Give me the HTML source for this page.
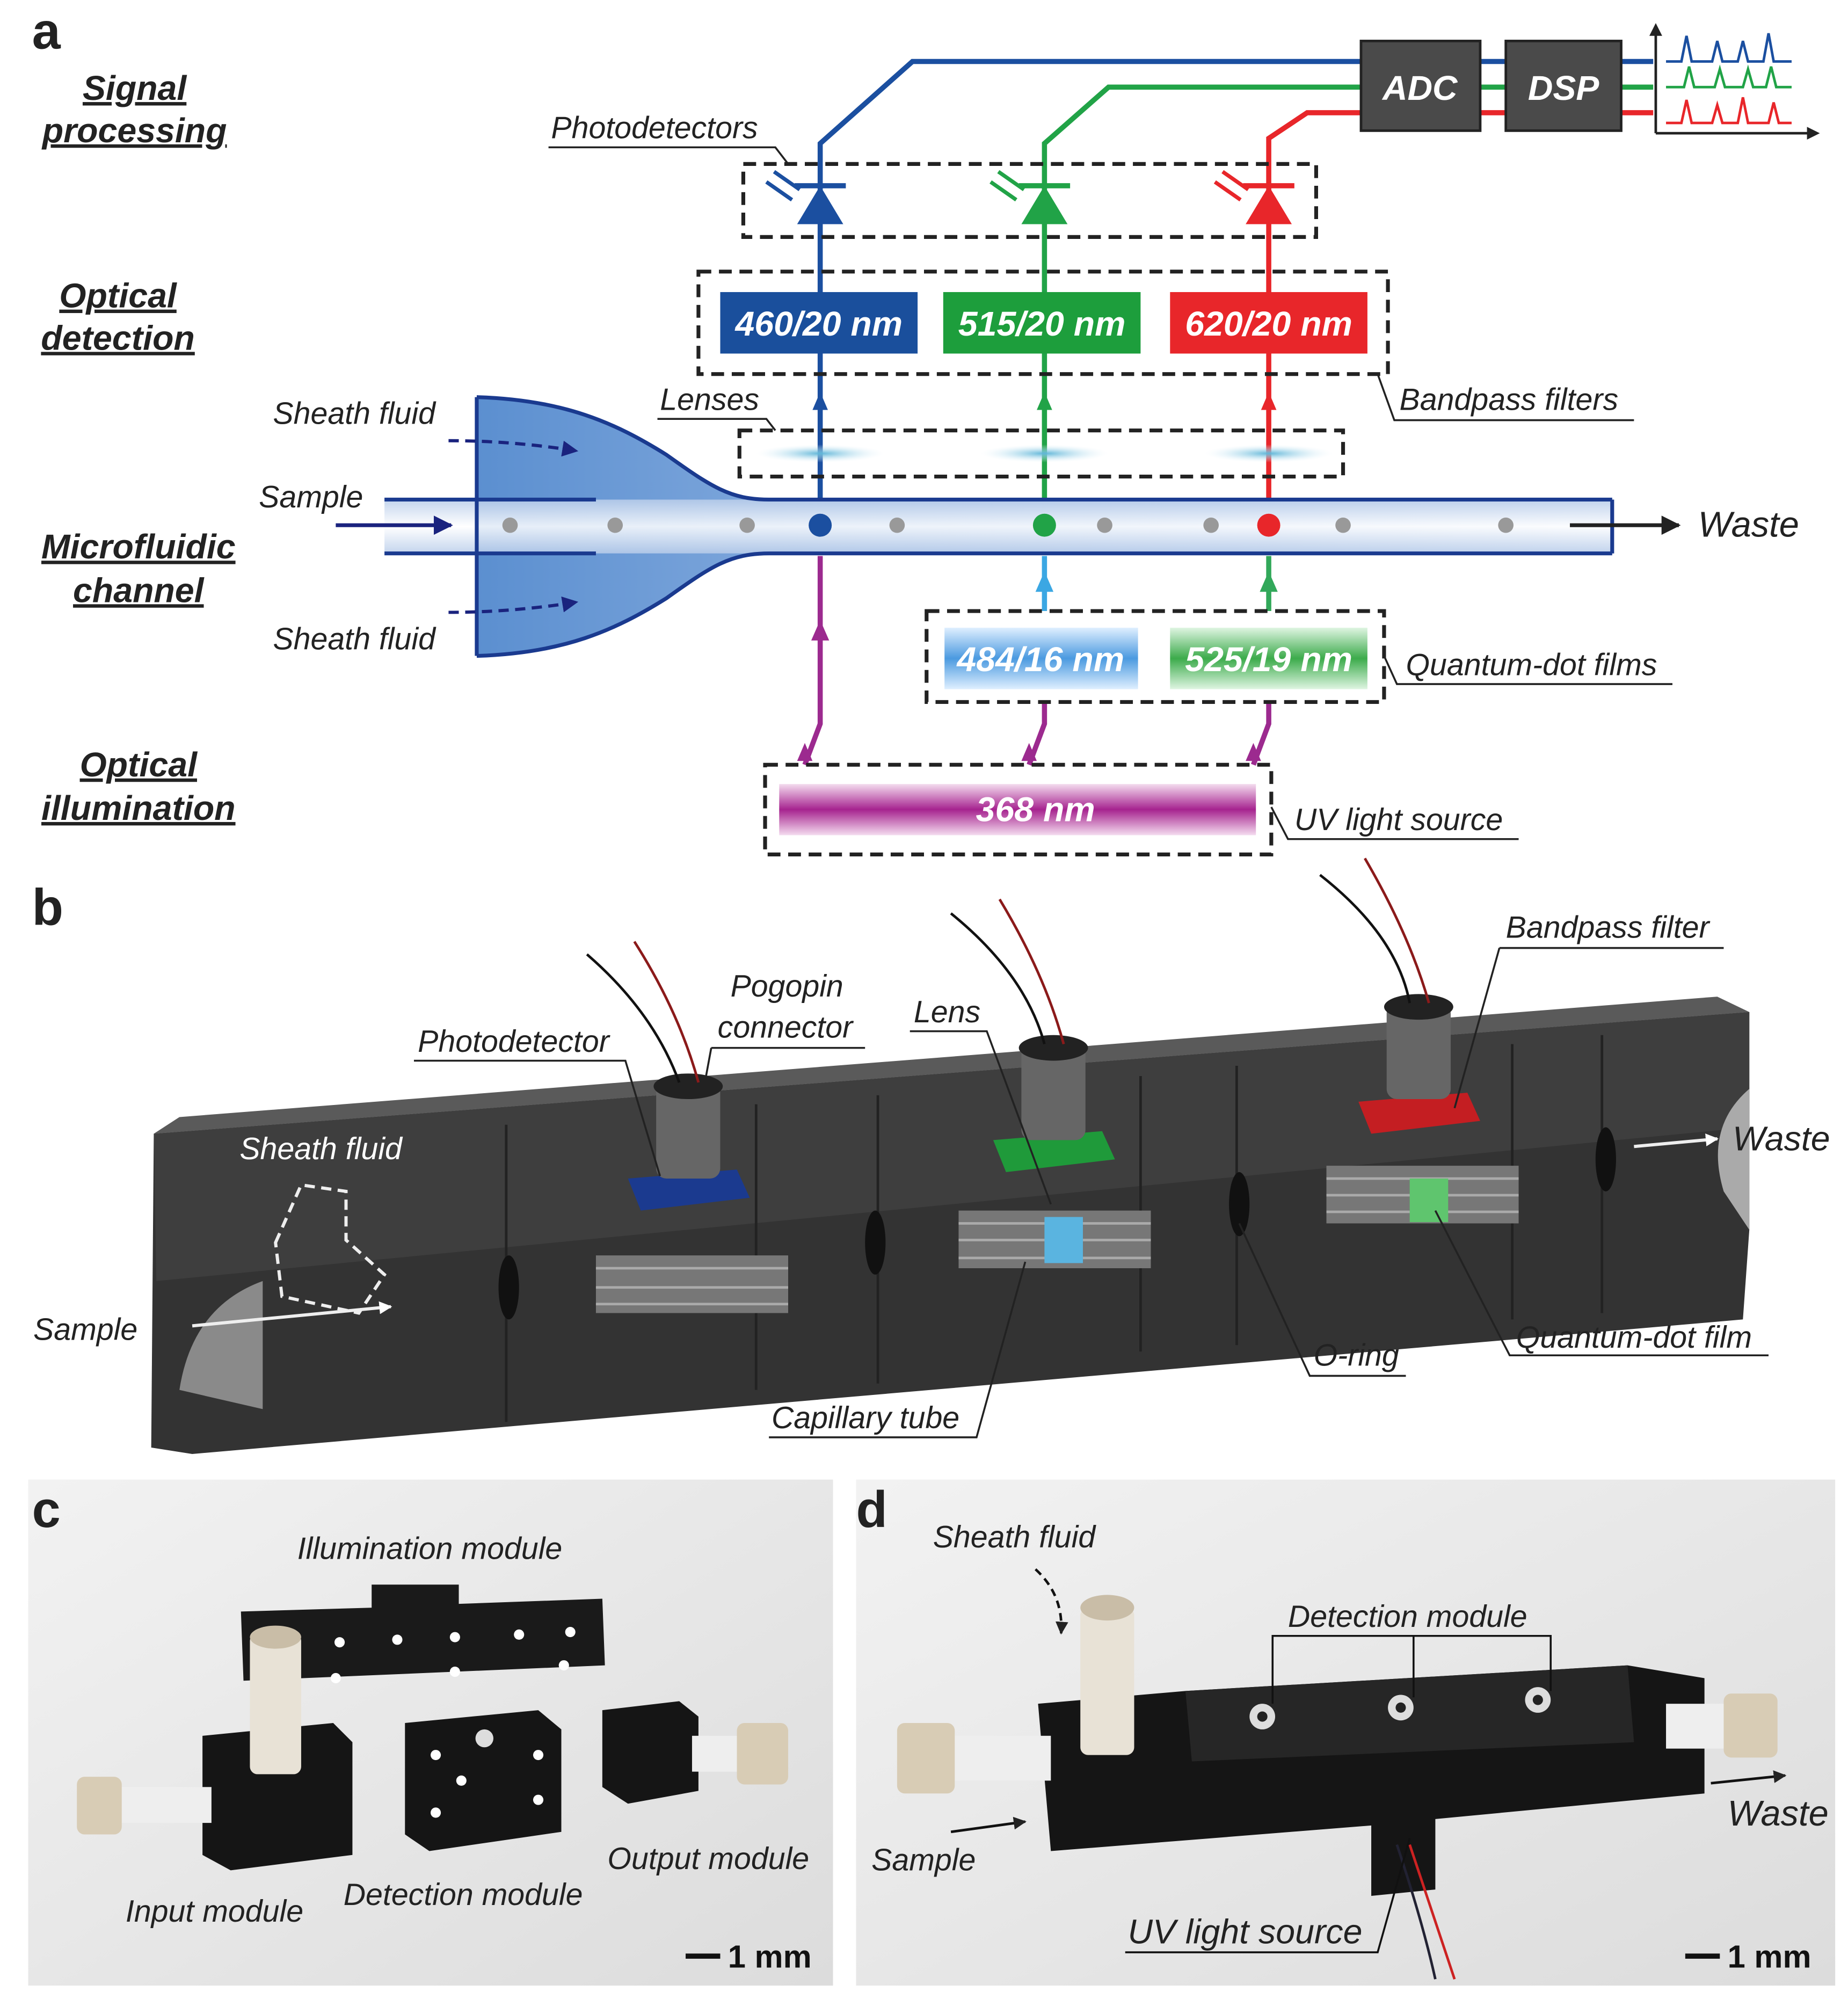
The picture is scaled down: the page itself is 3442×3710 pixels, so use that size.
<!DOCTYPE html>
<html><head><meta charset="utf-8"><style>
html,body{margin:0;padding:0;background:#fff}
svg{display:block}
text{font-family:"Liberation Sans",sans-serif}
.lb{font-style:italic;font-size:24px;fill:#222}
.sec{font-style:italic;font-weight:bold;font-size:27px;fill:#222;text-decoration:underline}
.big{font-weight:bold;font-size:40px;fill:#222}
.ft{font-style:italic;font-weight:bold;font-size:27px;fill:#fff}
</style></head><body>
<svg width="3442" height="3710" viewBox="0 0 1442 1555" preserveAspectRatio="none" xmlns="http://www.w3.org/2000/svg">
<defs>
<linearGradient id="fun" x1="0" x2="1" y1="0" y2="0"><stop offset="0" stop-color="#5b8fd0"/><stop offset="0.6" stop-color="#a9c4ea"/><stop offset="1" stop-color="#eef3fb"/></linearGradient>
<linearGradient id="tube" x1="0" x2="0" y1="0" y2="1"><stop offset="0" stop-color="#b9cdea"/><stop offset="0.5" stop-color="#fff"/><stop offset="1" stop-color="#b9cdea"/></linearGradient>
<linearGradient id="uv" x1="0" x2="0" y1="0" y2="1"><stop offset="0" stop-color="#f4dcef"/><stop offset="0.5" stop-color="#a6238f"/><stop offset="1" stop-color="#f4dcef"/></linearGradient>
<linearGradient id="qb" x1="0" x2="0" y1="0" y2="1"><stop offset="0" stop-color="#dfefff"/><stop offset="0.5" stop-color="#4b9ae0"/><stop offset="1" stop-color="#dfefff"/></linearGradient>
<linearGradient id="qg" x1="0" x2="0" y1="0" y2="1"><stop offset="0" stop-color="#dff5e2"/><stop offset="0.5" stop-color="#3cab4b"/><stop offset="1" stop-color="#dff5e2"/></linearGradient>
<radialGradient id="lens"><stop offset="0" stop-color="#5fb6d8"/><stop offset="1" stop-color="#e6f4fb" stop-opacity="0"/></radialGradient>
<linearGradient id="ph" x1="0" x2="1" y1="0" y2="1"><stop offset="0" stop-color="#f2f2f2"/><stop offset="1" stop-color="#dcdcdc"/></linearGradient>
<marker id="ab" viewBox="0 0 10 10" refX="9" refY="5" markerWidth="5" markerHeight="5" orient="auto"><path d="M0,0L10,5L0,10z" fill="#1a237e"/></marker>
<marker id="ak" viewBox="0 0 10 10" refX="9" refY="5" markerWidth="5" markerHeight="5" orient="auto"><path d="M0,0L10,5L0,10z" fill="#222"/></marker>
<marker id="aw" viewBox="0 0 10 10" refX="9" refY="5" markerWidth="4" markerHeight="4" orient="auto"><path d="M0,0L10,5L0,10z" fill="#fff"/></marker>
</defs>

<!-- Panel a -->
<text x="25" y="38" class="big">a</text>
<text x="105" y="78" class="sec" text-anchor="middle">Signal</text>
<text x="105" y="111" class="sec" text-anchor="middle">processing</text>
<text x="92" y="240" class="sec" text-anchor="middle">Optical</text>
<text x="92" y="273" class="sec" text-anchor="middle">detection</text>
<text x="108" y="436" class="sec" text-anchor="middle">Microfluidic</text>
<text x="108" y="470" class="sec" text-anchor="middle">channel</text>
<text x="108" y="606" class="sec" text-anchor="middle">Optical</text>
<text x="108" y="640" class="sec" text-anchor="middle">illumination</text>

<!-- signal lines -->
<g fill="none" stroke-width="4">
<path d="M640,390V112L712,48H1290" stroke="#1b4fa0"/>
<path d="M815,390V112L865,68H1290" stroke="#21a347"/>
<path d="M990,390V108L1020,88H1290" stroke="#e8262a"/>
</g>
<rect x="1062" y="32" width="93" height="70" fill="#4a4a4a" stroke="#222" stroke-width="2"/>
<rect x="1175" y="32" width="90" height="70" fill="#4a4a4a" stroke="#222" stroke-width="2"/>
<text x="1108" y="78" class="ft" text-anchor="middle" fill="#eee">ADC</text>
<text x="1220" y="78" class="ft" text-anchor="middle">DSP</text>
<g fill="none" stroke-width="2">
<path d="M1292,104V22M1292,104H1416" stroke="#222"/>
<path d="M1300,48H1312L1316,28L1320,48H1336L1340,32L1344,48H1356L1360,32L1364,48H1376L1380,26L1384,48H1398" stroke="#1b4fa0"/>
<path d="M1300,68H1314L1318,52L1322,68H1338L1342,54L1346,68H1360L1364,54L1368,68H1378L1382,52L1386,68H1398" stroke="#21a347"/>
<path d="M1300,96H1312L1316,78L1320,96H1336L1340,82L1344,96H1356L1360,76L1364,96H1380L1384,80L1388,96H1398" stroke="#e8262a"/>
</g>
<path d="M1292,18l-5,10h10z M1420,104l-10,-5v10z" fill="#222"/>

<!-- photodetectors -->
<rect x="580" y="128" width="447" height="57" fill="none" stroke="#222" stroke-width="3" stroke-dasharray="10,6"/>
<text x="430" y="108" class="lb">Photodetectors</text>
<path d="M428,115H605L615,128" stroke="#222" stroke-width="1.5" fill="none"/>
<g>
<path d="M622,175h36l-18,-30z" fill="#1b4fa0"/><path d="M620,145h40" stroke="#1b4fa0" stroke-width="4"/>
<path d="M797,175h36l-18,-30z" fill="#21a347"/><path d="M795,145h40" stroke="#21a347" stroke-width="4"/>
<path d="M972,175h36l-18,-30z" fill="#e8262a"/><path d="M970,145h40" stroke="#e8262a" stroke-width="4"/>
<path d="M598,142l20,14M604,134l20,14" stroke="#1b4fa0" stroke-width="3"/>
<path d="M773,142l20,14M779,134l20,14" stroke="#21a347" stroke-width="3"/>
<path d="M948,142l20,14M954,134l20,14" stroke="#e8262a" stroke-width="3"/>
</g>

<!-- filters -->
<rect x="545" y="212" width="538" height="80" fill="none" stroke="#222" stroke-width="3" stroke-dasharray="10,6"/>
<rect x="562" y="228" width="154" height="48" fill="#1a4f9c"/>
<rect x="736" y="228" width="154" height="48" fill="#1d9e3c"/>
<rect x="913" y="228" width="154" height="48" fill="#e8262a"/>
<text x="639" y="262" class="ft" text-anchor="middle">460/20 nm</text>
<text x="813" y="262" class="ft" text-anchor="middle">515/20 nm</text>
<text x="990" y="262" class="ft" text-anchor="middle">620/20 nm</text>
<text x="1092" y="320" class="lb">Bandpass filters</text>
<path d="M1075,292L1088,328H1275" stroke="#222" stroke-width="1.5" fill="none"/>
<path d="M640,306l-6,14h12z" fill="#1b4fa0"/><path d="M815,306l-6,14h12z" fill="#21a347"/><path d="M990,306l-6,14h12z" fill="#e8262a"/>

<!-- lenses -->
<rect x="577" y="336" width="471" height="36" fill="none" stroke="#222" stroke-width="3" stroke-dasharray="10,6"/>
<text x="515" y="320" class="lb">Lenses</text>
<path d="M513,327H598L605,336" stroke="#222" stroke-width="1.5" fill="none"/>
<ellipse cx="640" cy="354" rx="50" ry="7" fill="url(#lens)"/>
<ellipse cx="815" cy="354" rx="50" ry="7" fill="url(#lens)"/>
<ellipse cx="990" cy="354" rx="50" ry="7" fill="url(#lens)"/>

<!-- channel -->
<path d="M372,310C440,312 480,330 520,355C555,380 570,390 600,390H1258V432H600C570,432 555,442 520,467C480,492 440,510 372,512Z" fill="url(#fun)"/>
<rect x="300" y="390" width="958" height="42" fill="url(#tube)" opacity="0.85"/>
<path d="M300,390H465M300,432H465" stroke="#1a3a8f" stroke-width="3"/>
<path d="M372,310C440,312 480,330 520,355C555,380 570,390 600,390H1258M372,512C440,510 480,492 520,467C555,442 570,432 600,432H1258M1258,390V432" stroke="#1a3a8f" stroke-width="3" fill="none"/>
<path d="M372,310V512" stroke="#1a3a8f" stroke-width="3"/>
<path d="M350,344Q400,344 450,352" stroke="#1a237e" stroke-width="2.5" stroke-dasharray="8,5" fill="none" marker-end="url(#ab)"/>
<path d="M350,478Q400,478 450,470" stroke="#1a237e" stroke-width="2.5" stroke-dasharray="8,5" fill="none" marker-end="url(#ab)"/>
<path d="M262,410H352" stroke="#1a237e" stroke-width="3" marker-end="url(#ab)"/>
<g fill="#999"><circle cx="398" cy="410" r="6"/><circle cx="480" cy="410" r="6"/><circle cx="583" cy="410" r="6"/><circle cx="700" cy="410" r="6"/><circle cx="862" cy="410" r="6"/><circle cx="945" cy="410" r="6"/><circle cx="1048" cy="410" r="6"/><circle cx="1175" cy="410" r="6"/></g>
<circle cx="640" cy="410" r="9" fill="#1b4fa0"/><circle cx="815" cy="410" r="9" fill="#21a347"/><circle cx="990" cy="410" r="9" fill="#e8262a"/>
<path d="M1225,410H1310" stroke="#222" stroke-width="3" marker-end="url(#ak)"/>
<text x="1325" y="419" class="lb" style="font-size:28px">Waste</text>
<text x="213" y="331" class="lb">Sheath fluid</text>
<text x="213" y="507" class="lb">Sheath fluid</text>
<text x="202" y="396" class="lb">Sample</text>

<!-- lower -->
<path d="M628,597L640,565V434" stroke="#9c2a8f" stroke-width="4" fill="none"/>
<path d="M640,484l-7,16h14z M628,580l-6,14h12z" fill="#9c2a8f"/>
<path d="M803,597L815,565V548" stroke="#9c2a8f" stroke-width="4" fill="none"/>
<path d="M815,477V434" stroke="#3ba7e3" stroke-width="4"/>
<path d="M815,446l-7,16h14z" fill="#3ba7e3"/>
<path d="M803,580l-6,14h12z" fill="#9c2a8f"/>
<path d="M978,597L990,565V548" stroke="#9c2a8f" stroke-width="4" fill="none"/>
<path d="M990,477V434" stroke="#32a85a" stroke-width="4"/>
<path d="M990,446l-7,16h14z" fill="#32a85a"/>
<path d="M978,580l-6,14h12z" fill="#9c2a8f"/>
<rect x="723" y="477" width="357" height="71" fill="none" stroke="#222" stroke-width="3" stroke-dasharray="10,6"/>
<rect x="737" y="490" width="151" height="48" fill="url(#qb)"/>
<rect x="913" y="490" width="154" height="48" fill="url(#qg)"/>
<text x="812" y="524" class="ft" text-anchor="middle">484/16 nm</text>
<text x="990" y="524" class="ft" text-anchor="middle">525/19 nm</text>
<text x="1097" y="527" class="lb">Quantum-dot films</text>
<path d="M1080,512L1090,534H1305" stroke="#222" stroke-width="1.5" fill="none"/>
<rect x="597" y="597" width="395" height="70" fill="none" stroke="#222" stroke-width="3" stroke-dasharray="10,6"/>
<rect x="608" y="612" width="372" height="40" fill="url(#uv)"/>
<text x="808" y="641" class="ft" text-anchor="middle">368 nm</text>
<text x="1010" y="648" class="lb">UV light source</text>
<path d="M992,630L1005,655H1185" stroke="#222" stroke-width="1.5" fill="none"/>

<!-- Panel b -->
<text x="25" y="722" class="big">b</text>
<path d="M120,885L1365,790V960L1360,1030L150,1135L118,1130Z" fill="#333"/>
<path d="M120,885L1365,790L1340,778L140,872Z" fill="#5a5a5a"/>
<path d="M120,885L1365,790V880L122,1000Z" fill="#3e3e3e"/>
<path d="M140,1085Q150,1020 205,1000V1100Z" fill="#8a8a8a"/>
<path d="M1345,930Q1330,880 1365,850V960Z" fill="#aaa"/>
<g stroke="#222" stroke-width="2"><path d="M395,878V1110M590,862V1085M685,855V1080M890,840V1055M965,832V1050M1180,815V1030M1250,808V1025"/></g>
<rect x="465" y="980" width="150" height="45" fill="#777"/><rect x="748" y="945" width="150" height="45" fill="#777"/><rect x="1035" y="910" width="150" height="45" fill="#777"/>
<g stroke="#aaa" stroke-width="2"><path d="M465,990H615M465,1005H615M465,1018H615M748,955H898M748,968H898M748,982H898M1035,920H1185M1035,933H1185M1035,946H1185"/></g>
<rect x="815" y="950" width="30" height="36" fill="#5ab4e0"/><rect x="1100" y="920" width="30" height="34" fill="#5fc56e"/>
<path d="M490,920L575,913L585,935L500,945Z" fill="#1b3a8f"/><path d="M775,890L860,883L870,905L785,915Z" fill="#1f9a3a"/><path d="M1060,860L1145,853L1155,875L1070,885Z" fill="#c41e22"/>
<rect x="512" y="845" width="50" height="75" rx="8" fill="#666"/><rect x="797" y="815" width="50" height="75" rx="8" fill="#666"/><rect x="1082" y="783" width="50" height="75" rx="8" fill="#666"/>
<ellipse cx="537" cy="848" rx="27" ry="10" fill="#222"/><ellipse cx="822" cy="818" rx="27" ry="10" fill="#222"/><ellipse cx="1107" cy="786" rx="27" ry="10" fill="#222"/>
<g fill="none" stroke-width="2"><path d="M458,745Q510,790 530,845" stroke="#111"/><path d="M495,735Q530,790 545,845" stroke="#8b1a1a"/><path d="M742,713Q800,760 815,815" stroke="#111"/><path d="M780,702Q815,760 830,815" stroke="#8b1a1a"/><path d="M1030,683Q1090,730 1100,783" stroke="#111"/><path d="M1065,670Q1100,730 1115,783" stroke="#8b1a1a"/></g>
<g fill="#111"><ellipse cx="397" cy="1005" rx="8" ry="25"/><ellipse cx="683" cy="970" rx="8" ry="25"/><ellipse cx="967" cy="940" rx="8" ry="25"/><ellipse cx="1253" cy="905" rx="8" ry="25"/></g>
<path d="M215,970L235,925L270,930V968L300,995L280,1025L220,1012Z" fill="none" stroke="#eee" stroke-width="2.5" stroke-dasharray="8,5"/>
<path d="M150,1035L305,1020" stroke="#eee" stroke-width="2.5" marker-end="url(#aw)"/>
<path d="M1275,895L1340,889" stroke="#eee" stroke-width="2.5" marker-end="url(#aw)"/>
<text x="187" y="905" class="lb" fill="#fff" style="fill:#fff">Sheath fluid</text>
<text x="26" y="1046" class="lb">Sample</text>
<text x="1352" y="898" class="lb" style="font-size:27px">Waste</text>
<text x="326" y="821" class="lb">Photodetector</text><path d="M323,828H488L515,918" stroke="#222" stroke-width="1.5" fill="none"/>
<text x="570" y="778" class="lb">Pogopin</text><text x="560" y="810" class="lb">connector</text><path d="M555,818H675M555,818L550,845" stroke="#222" stroke-width="1.5" fill="none"/>
<text x="713" y="798" class="lb">Lens</text><path d="M710,805H770L820,940" stroke="#222" stroke-width="1.5" fill="none"/>
<text x="1175" y="732" class="lb">Bandpass filter</text><path d="M1170,740H1345M1170,740L1135,865" stroke="#222" stroke-width="1.5" fill="none"/>
<text x="1183" y="1052" class="lb">Quantum-dot film</text><path d="M1380,1058H1178L1120,945" stroke="#222" stroke-width="1.5" fill="none"/>
<text x="1025" y="1066" class="lb">O-ring</text><path d="M1097,1074H1022L967,955" stroke="#222" stroke-width="1.5" fill="none"/>
<text x="602" y="1115" class="lb">Capillary tube</text><path d="M600,1122H762L800,985" stroke="#222" stroke-width="1.5" fill="none"/>

<!-- Panel c -->
<rect x="22" y="1155" width="628" height="395" fill="url(#ph)"/>
<text x="25" y="1192" class="big">c</text>
<path d="M188,1258L290,1255V1237H358V1252L470,1248L472,1300L190,1312Z" fill="#1a1a1a"/>
<g fill="#fff"><circle cx="225" cy="1285" r="4"/><circle cx="265" cy="1282" r="4"/><circle cx="310" cy="1280" r="4"/><circle cx="355" cy="1278" r="4"/><circle cx="405" cy="1276" r="4"/><circle cx="445" cy="1274" r="4"/><circle cx="262" cy="1310" r="4"/><circle cx="355" cy="1305" r="4"/><circle cx="440" cy="1300" r="4"/></g>
<path d="M158,1355L260,1345L275,1360V1448L180,1460L158,1448Z" fill="#151515"/>
<rect x="195" y="1275" width="40" height="110" rx="6" fill="#e8e2d6"/><ellipse cx="215" cy="1278" rx="20" ry="9" fill="#c9bda7"/>
<rect x="85" y="1395" width="80" height="28" fill="#eee"/><rect x="60" y="1387" width="35" height="45" rx="6" fill="#d8ccb5"/>
<path d="M316,1345L420,1335L438,1350V1430L335,1445L316,1432Z" fill="#151515"/>
<g fill="#fff"><circle cx="340" cy="1370" r="4"/><circle cx="360" cy="1390" r="4"/><circle cx="340" cy="1415" r="4"/><circle cx="420" cy="1370" r="4"/><circle cx="420" cy="1405" r="4"/></g>
<circle cx="378" cy="1357" r="7" fill="#ddd"/>
<path d="M470,1335L530,1328L545,1340V1398L490,1408L470,1395Z" fill="#151515"/>
<rect x="540" y="1355" width="45" height="28" fill="#eee"/><rect x="575" y="1345" width="40" height="48" rx="6" fill="#d8ccb5"/>
<text x="232" y="1217" class="lb">Illumination module</text>
<text x="98" y="1500" class="lb">Input module</text>
<text x="268" y="1487" class="lb">Detection module</text>
<text x="474" y="1459" class="lb">Output module</text>
<path d="M535,1527H562" stroke="#111" stroke-width="4"/><text x="568" y="1536" style="font-weight:bold;font-size:25px;fill:#111">1 mm</text>

<!-- Panel d -->
<rect x="668" y="1155" width="764" height="395" fill="url(#ph)"/>
<text x="668" y="1192" class="big">d</text>
<path d="M810,1330L925,1320L1270,1300L1330,1310V1400L1120,1420V1475L1070,1480V1425L820,1445Z" fill="#151515"/>
<path d="M925,1320L1270,1300L1275,1360L930,1375Z" fill="#262626"/>
<g><circle cx="985" cy="1340" r="10" fill="#ddd"/><circle cx="985" cy="1340" r="4" fill="#222"/><circle cx="1093" cy="1333" r="10" fill="#ddd"/><circle cx="1093" cy="1333" r="4" fill="#222"/><circle cx="1200" cy="1327" r="10" fill="#ddd"/><circle cx="1200" cy="1327" r="4" fill="#222"/></g>
<rect x="843" y="1255" width="42" height="115" rx="6" fill="#e8e2d6"/><ellipse cx="864" cy="1255" rx="21" ry="10" fill="#c9bda7"/>
<rect x="735" y="1355" width="85" height="35" fill="#eee"/><rect x="700" y="1345" width="45" height="55" rx="6" fill="#d8ccb5"/>
<rect x="1300" y="1330" width="60" height="35" fill="#eee"/><rect x="1345" y="1322" width="42" height="50" rx="6" fill="#d8ccb5"/>
<path d="M1100,1440Q1120,1500 1135,1545" stroke="#c22" stroke-width="2" fill="none"/><path d="M1090,1440Q1110,1500 1120,1545" stroke="#223" stroke-width="2" fill="none"/>
<text x="728" y="1208" class="lb">Sheath fluid</text>
<path d="M808,1225Q830,1245 828,1275" stroke="#111" stroke-width="2" stroke-dasharray="6,4" fill="none" marker-end="url(#ak)"/>
<text x="1005" y="1270" class="lb">Detection module</text>
<path d="M993,1330V1277H1210V1320M1103,1277V1325" stroke="#111" stroke-width="1.5" fill="none"/>
<text x="680" y="1460" class="lb">Sample</text>
<path d="M742,1430L800,1422" stroke="#111" stroke-width="2" marker-end="url(#ak)"/>
<text x="1348" y="1425" class="lb" style="font-size:28px">Waste</text>
<path d="M1335,1392L1393,1386" stroke="#111" stroke-width="2" marker-end="url(#ak)"/>
<text x="880" y="1517" class="lb" style="font-size:27px">UV light source</text>
<path d="M878,1524H1075L1100,1435" stroke="#111" stroke-width="1.5" fill="none"/>
<path d="M1315,1527H1342" stroke="#111" stroke-width="4"/><text x="1348" y="1536" style="font-weight:bold;font-size:25px;fill:#111">1 mm</text>
</svg>
</body></html>
